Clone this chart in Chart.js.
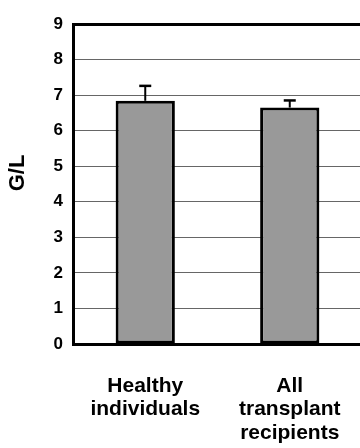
<!DOCTYPE html>
<html>
<head>
<meta charset="utf-8">
<script src="https://cdn.jsdelivr.net/npm/chart.js@4/dist/chart.umd.min.js"></script>
<style>
  html, body { margin: 0; padding: 0; background: #ffffff; overflow: hidden; }
  #wrap { width: 362px; height: 448px; position: relative; }
</style>
</head>
<body>
<div id="wrap"><canvas id="c"></canvas></div>
<script>
// Group labels (multi-line) and measured values in G/L
const categories = [['Healthy', 'individuals'], ['All', 'transplant', 'recipients']];
const means = [6.84, 6.65];
const errors = [0.42, 0.20];
const yTitle = 'G/L';
const yMin = 0;
const yMax = 9;
const yStep = 1;

const FONT = "Arial, 'Liberation Sans', Helvetica, sans-serif";

// Upper-only error bars with a short cap
const errorBarPlugin = {
  id: 'errorBars',
  afterDatasetsDraw(chart) {
    const meta = chart.getDatasetMeta(0);
    const yScale = chart.scales.y;
    const ctx = chart.ctx;
    ctx.save();
    ctx.strokeStyle = '#000000';
    meta.data.forEach((bar, i) => {
      const x = bar.x;
      const yBase = yScale.getPixelForValue(means[i]);
      const yTop = yScale.getPixelForValue(means[i] + errors[i]);
      ctx.lineWidth = 2;
      ctx.beginPath();
      ctx.moveTo(x, yBase);
      ctx.lineTo(x, yTop);
      ctx.stroke();
      ctx.lineWidth = 2.5;
      ctx.beginPath();
      ctx.moveTo(x - 6, yTop);
      ctx.lineTo(x + 6, yTop);
      ctx.stroke();
    });
    ctx.restore();
  }
};

// Vertical axis title
const axisTitlePlugin = {
  id: 'axisTitle',
  afterDraw(chart) {
    const ctx = chart.ctx;
    ctx.save();
    ctx.fillStyle = '#000000';
    ctx.font = 'bold 22px ' + FONT;
    ctx.textAlign = 'center';
    ctx.textBaseline = 'middle';
    ctx.translate(18, 173);
    ctx.rotate(-Math.PI / 2);
    ctx.fillText(yTitle, 0, 0);
    ctx.restore();
  }
};

new Chart(document.getElementById('c'), {
  type: 'bar',
  data: {
    labels: categories,
    datasets: [{
      data: means,
      backgroundColor: '#999999',
      borderColor: '#000000',
      borderWidth: 3,
      borderSkipped: false,
      barPercentage: 0.41,
      categoryPercentage: 1.0
    }]
  },
  options: {
    responsive: true,
    maintainAspectRatio: false,
    animation: false,
    layout: { padding: { top: 24, left: 0, right: 0, bottom: 0 } },
    plugins: {
      legend: { display: false },
      tooltip: { enabled: false },
      title: { display: false }
    },
    scales: {
      x: {
        afterFit(scale) {
          scale.height = 104;
          scale.paddingLeft = 0;
          scale.paddingRight = 0;
        },
        grid: { display: false, drawTicks: false },
        border: { display: true, color: '#000000', width: 3 },
        ticks: {
          color: '#000000',
          padding: 30,
          maxRotation: 0,
          autoSkip: false,
          font: { family: FONT, size: 21, weight: 'bold', lineHeight: 1.12 }
        }
      },
      y: {
        min: yMin,
        max: yMax,
        afterFit(scale) { scale.width = 73; },
        grid: {
          drawTicks: false,
          color: (c) => (c.tick && c.tick.value === yMax) ? '#000000' : '#666666',
          lineWidth: (c) => (c.tick && c.tick.value === yMax) ? 3 : 1
        },
        border: { display: true, color: '#000000', width: 3 },
        ticks: {
          stepSize: yStep,
          color: '#000000',
          padding: 10,
          font: { family: FONT, size: 17, weight: 'bold' }
        }
      }
    }
  },
  plugins: [errorBarPlugin, axisTitlePlugin]
});
</script>
</body>
</html>
